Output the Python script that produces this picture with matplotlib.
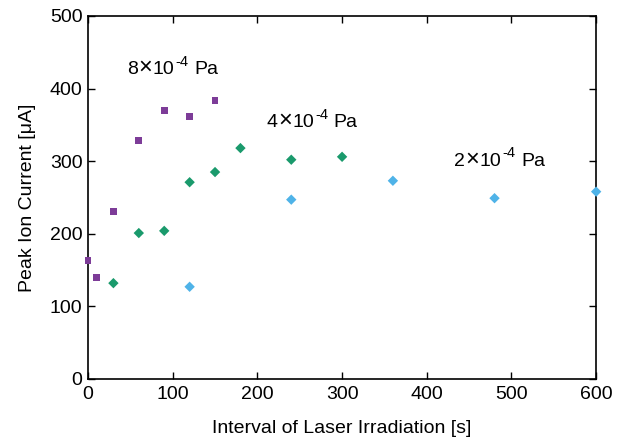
import matplotlib
matplotlib.use('Agg')
import matplotlib.pyplot as plt

plt.rcParams.update({
    "font.family": ["Liberation Sans", "DejaVu Sans"],
    "font.size": 14,
})

# 8x10^-4 Pa
t_8e4 = [0, 10, 30, 60, 90, 120, 150]
i_8e4 = [163, 140, 231, 328, 370, 362, 384]
# 4x10^-4 Pa
t_4e4 = [30, 60, 90, 120, 150, 180, 240, 300]
i_4e4 = [132, 201, 204, 271, 285, 318, 302, 306]
# 2x10^-4 Pa
t_2e4 = [120, 240, 360, 480, 600]
i_2e4 = [127, 247, 273, 249, 258]

labels = ['8', '4', '2']
label_pos = [(46, 420), (211, 347), (432, 294)]


def pressure_label(ax, x, y, mant):
    """mantissa x 10^-4 Pa, with a wide times sign and hyphen as in original"""
    t1 = ax.text(x, y, mant, fontsize=14, va='baseline')
    t2 = ax.annotate('\u00d7', xy=(1, y), xycoords=(t1, 'data'), xytext=(0.5, 0),
                     textcoords='offset points', fontsize=17, va='baseline')
    t3 = ax.annotate('10', xy=(1, y), xycoords=(t2, 'data'), xytext=(0.5, 0),
                     textcoords='offset points', fontsize=14, va='baseline')
    t4 = ax.annotate('-4', xy=(1, y), xycoords=(t3, 'data'), xytext=(0.5, 6),
                     textcoords='offset points', fontsize=10.5, va='baseline')
    ax.annotate('Pa', xy=(1, y), xycoords=(t4, 'data'), xytext=(4, 0),
                textcoords='offset points', fontsize=14, va='baseline')


fig = plt.figure(figsize=(6.21, 4.43), dpi=100)
ax = fig.add_axes([0.1417, 0.1445, 0.8183, 0.8195])

ax.scatter(t_8e4, i_8e4, marker='s', s=24, color='#7d3c98', edgecolors='none', clip_on=False, zorder=3)
ax.scatter(t_4e4, i_4e4, marker='D', s=28, color='#1a9a6c', edgecolors='none', clip_on=False, zorder=3)
ax.scatter(t_2e4, i_2e4, marker='D', s=28, color='#4fb3e8', edgecolors='none', clip_on=False, zorder=3)

for (x, y), m in zip(label_pos, labels):
    pressure_label(ax, x, y, m)

ax.set_xlim(0, 600)
ax.set_ylim(0, 500)
ax.set_xticks(range(0, 601, 100))
ax.set_yticks(range(0, 501, 100))
ax.tick_params(direction='in', top=True, right=True, length=5, width=1, labelsize=14)
ax.tick_params(axis='x', pad=5)
ax.tick_params(axis='y', pad=4)
for sp in ax.spines.values():
    sp.set_linewidth(1.2)

ax.set_xlabel('Interval of Laser Irradiation [s]', fontsize=14, labelpad=12)
ax.set_ylabel('Peak Ion Current [\u03bcA]', fontsize=14, labelpad=10)

fig.savefig('out.png', dpi=100)
